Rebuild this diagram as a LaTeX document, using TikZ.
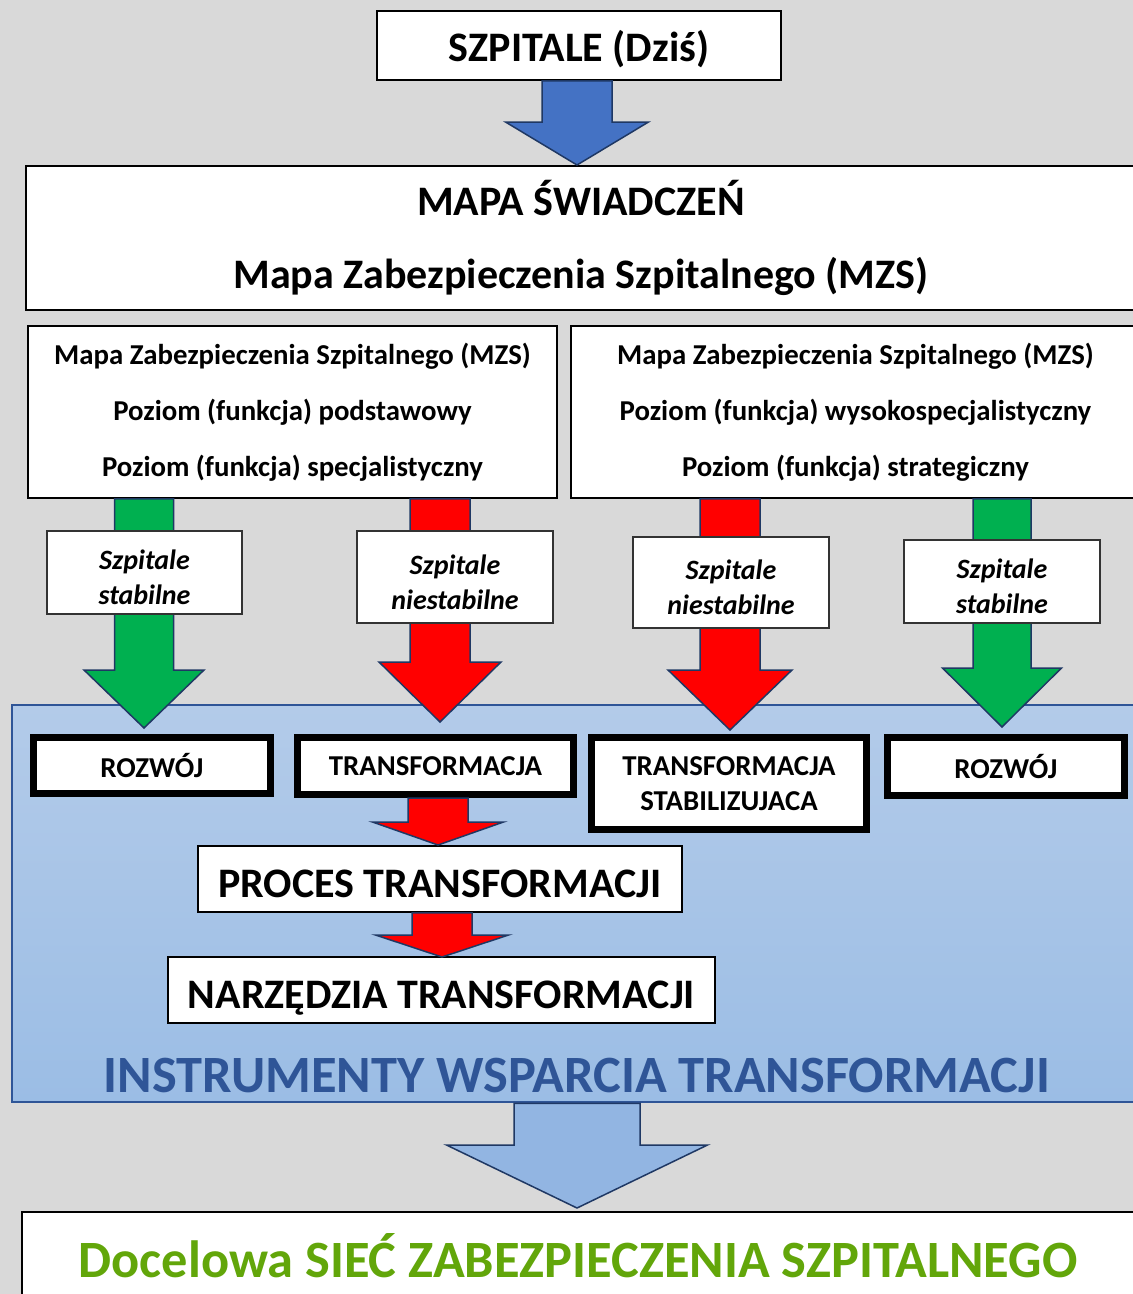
\documentclass[tikz,border=0pt]{standalone}
\usepackage{fontspec}
\setmainfont{Carlito}
\usetikzlibrary{calc,positioning}

\definecolor{tlo}{HTML}{D9D9D9}
\definecolor{niebieski}{HTML}{4472C4}
\definecolor{zielony}{HTML}{00B050}
\definecolor{czerwony}{HTML}{FF0000}
\definecolor{granat}{HTML}{1F3864}
\definecolor{ramka}{HTML}{2F5597}
\definecolor{panelgora}{HTML}{B3CBE9}
\definecolor{paneldol}{HTML}{9BBDE5}
\definecolor{docelowy}{HTML}{62A60A}

% block arrow: style, start, tip, shaft half width, head half width, head length
\newcommand{\blockarrow}[6]{%
  \draw[#1] let \p1=(#2), \p2=(#3) in
    (\x2-#4pt,\y1) -- (\x2+#4pt,\y1) -- (\x2+#4pt,\y2+#6pt) -- (\x2+#5pt,\y2+#6pt)
    -- (\x2,\y2) -- (\x2-#5pt,\y2+#6pt) -- (\x2-#4pt,\y2+#6pt) -- cycle;}

\begin{document}
\begin{tikzpicture}[x=1pt, y=-1pt,
    box/.style={draw=black, line width=1.5pt, fill=white, inner sep=0pt, align=center, font=\bfseries},
    tag/.style={draw=black!80, line width=1.5pt, fill=white, inner sep=0pt},
    tagtext/.style={align=center, inner sep=0pt, font=\fontsize{28}{35}\selectfont\bfseries\itshape},
    heavy/.style={draw=black, line width=7pt, fill=white, inner sep=0pt, align=center,
      font=\fontsize{28.8}{35}\selectfont\bfseries},
    arr/.style={draw=granat, line width=1.5pt, line join=miter, fill=#1}]

  \useasboundingbox (0,0) rectangle (1133,1294);
  \clip (0,0) rectangle (1133,1294);
  \fill[tlo] (0,0) rectangle (1133,1294);

  \node[box, minimum width=404, minimum height=69, text height=31pt, text depth=0pt,
    font=\fontsize{42}{50}\selectfont\bfseries] (today) at (579,45.5) {SZPITALE (Dziś)};
  \node[box, minimum width=1110, minimum height=144, font=\fontsize{42}{73}\selectfont\bfseries]
    (mapa) at (581,238) {MAPA ŚWIADCZEŃ\\Mapa Zabezpieczenia Szpitalnego (MZS)};
  \node[box, minimum width=529, minimum height=172, font=\fontsize{28.8}{56}\selectfont\bfseries]
    (lewy) at (292.5,412) {Mapa Zabezpieczenia Szpitalnego (MZS)\\Poziom (funkcja) podstawowy\\Poziom (funkcja) specjalistyczny};
  \node[box, minimum width=569, minimum height=172, font=\fontsize{28.8}{56}\selectfont\bfseries]
    (prawy) at (855.5,412) {Mapa Zabezpieczenia Szpitalnego (MZS)\\Poziom (funkcja) wysokospecjalistyczny\\Poziom (funkcja) strategiczny};

  \blockarrow{arr=niebieski}{today.south}{577,165}{35}{71.5}{43}

  % transformation panel
  \node[draw=ramka, line width=2.5pt, top color=panelgora, bottom color=paneldol,
    minimum width=1128, minimum height=397, inner sep=0pt] (panel) at (576,903.5) {};
  \node[text=ramka, font=\fontsize{52.4}{56}\selectfont\bfseries] (instr) at (577,1075)
    {INSTRUMENTY WSPARCIA TRANSFORMACJI};

  \blockarrow{arr=zielony}{lewy.south}{144,728}{29.5}{60}{58}
  \blockarrow{arr=czerwony}{lewy.south}{440,722}{30}{61}{60}
  \blockarrow{arr=czerwony}{prawy.south}{730,730}{30}{62}{60}
  \blockarrow{arr=zielony}{prawy.south}{1002,727}{29}{59.5}{59}

  \node[tag, minimum width=195, minimum height=83] (stab1) at (144.5,572.5) {};
  \node[tag, minimum width=196, minimum height=92] (niest1) at (455,577) {};
  \node[tag, minimum width=196, minimum height=91] (niest2) at (731,582.5) {};
  \node[tag, minimum width=196, minimum height=83] (stab2) at (1002,581.5) {};
  \foreach \t/\w in {stab1/stabilne, niest1/niestabilne, niest2/niestabilne, stab2/stabilne}
    \node[tagtext] at ([yshift=-5pt]\t.center) {Szpitale\\\w};

  \node[heavy, minimum width=237, minimum height=56] (rozw1) at (152,765.5) {ROZWÓJ};
  \node[heavy, minimum width=276, minimum height=57] (transf) at (435.5,766) {TRANSFORMACJA};
  \node[heavy, minimum width=275, minimum height=92] (stabil) at (729,783.5) {TRANSFORMACJA\\STABILIZUJACA};
  \node[heavy, minimum width=237, minimum height=58] (rozw2) at (1006,766.5) {ROZWÓJ};

  \node[box, minimum width=484, minimum height=66, text height=36pt, text depth=0pt,
    font=\fontsize{42}{46}\selectfont\bfseries] (proces) at (440,879) {PROCES TRANSFORMACJI};
  \node[box, minimum width=547, minimum height=66, text height=36pt, text depth=0pt,
    font=\fontsize{42}{46}\selectfont\bfseries] (narz) at (441.5,990) {NARZĘDZIA TRANSFORMACJI};

  \blockarrow{arr=czerwony}{transf.south}{438,845}{30}{65.5}{23}
  \blockarrow{arr=czerwony}{proces.south}{442,957}{30}{66.5}{22}

  \blockarrow{arr={paneldol!90!niebieski}}{panel.south}{577,1208}{63}{130.5}{63}

  \node[box, minimum width=1123, minimum height=98] (siec) at (583.5,1261) {};
  \node[text=docelowy, font=\fontsize{52.4}{56}\selectfont\bfseries] at (578,1256)
    {Docelowa SIEĆ ZABEZPIECZENIA SZPITALNEGO};
\end{tikzpicture}
\end{document}
